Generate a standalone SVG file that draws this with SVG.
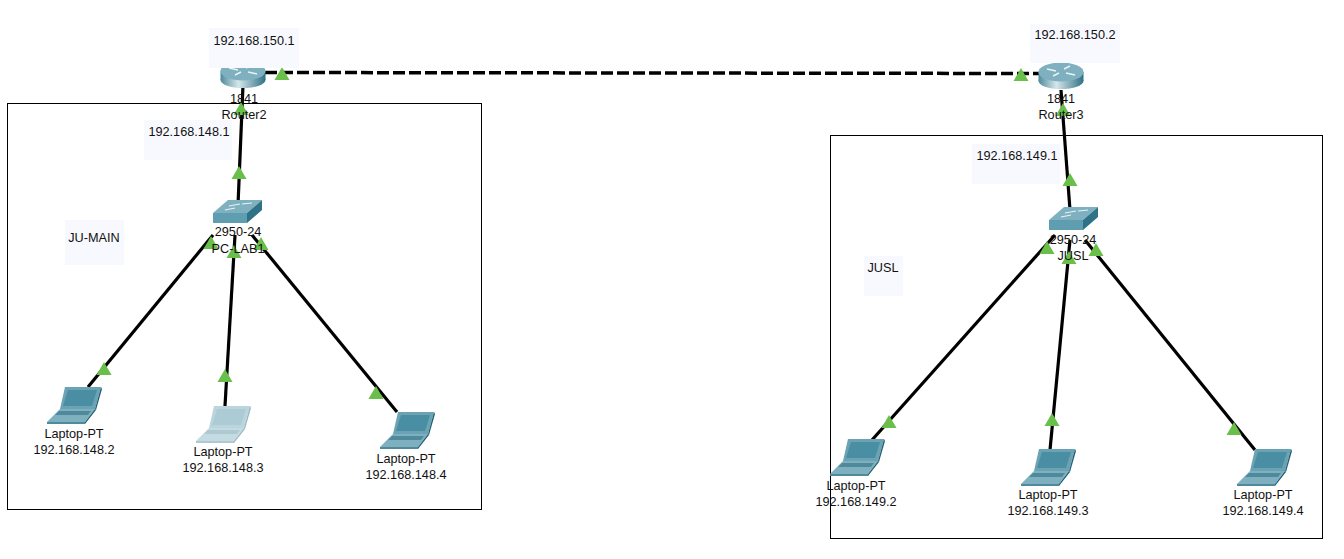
<svg xmlns="http://www.w3.org/2000/svg" xmlns:xlink="http://www.w3.org/1999/xlink" width="1344" height="559" viewBox="0 0 1344 559">
<style>
text{font-family:"Liberation Sans",Arial,sans-serif;font-size:12.7px;fill:#111;text-anchor:middle}
.box{fill:none;stroke:#000;stroke-width:1}
.note{fill:#f8f9ff}
.link{stroke:#000;stroke-width:3.200;fill:none}
.dash{stroke-dasharray:12 4;stroke-width:3.500}
.tri{fill:#6abf4b}
</style>
<defs>
<linearGradient id="rg" x1="0" x2="1" y1="0" y2="0"><stop offset="0" stop-color="#4f8a9c"/><stop offset=".4" stop-color="#d5e6ea"/><stop offset="1" stop-color="#2f7186"/></linearGradient>
<polygon id="t" class="tri" points="0,-7 7.500,6 -7.500,6"/>
<g id="router"><ellipse cx="0" cy="3" rx="22.500" ry="8" fill="url(#rg)"/><rect x="-22.500" y="-6" width="45" height="9" fill="url(#rg)"/><ellipse cx="0" cy="-6" rx="22.500" ry="9.500" fill="#7fb0bf"/><path d="M-14,-9 L-5,-7 M5,-5 L14,-3 M-8,-2 L-2,-5 M3,-9 L9,-12" stroke="#e8f2f4" stroke-width="1.500" fill="none"/></g>
<g id="switch"><polygon points="-24,1 -9,-12 25,-12 10,1" fill="#7fb0bf"/><rect x="-24" y="1" width="34" height="10" fill="#5f9db0"/><polygon points="10,1 25,-12 25,-2 10,11" fill="#2f7186"/><path d="M-8,-6 L3,-8 M5,-8 L15,-9 M-12,-2 L-2,-4" stroke="#e8f2f4" stroke-width="1.200"/></g>
<g id="laptop"><polygon points="-15,-22 21,-22 15,0 -20,0" fill="#6ba3b5"/><polygon points="-12,-19 17,-19 12,-3 -17,-3" fill="#4a8ea3"/><polygon points="21,-22 22,-20 16,1 15,0" fill="#1f6176"/><polygon points="-20,0 15,0 5,13 -33,13" fill="#7fb0bf"/><polygon points="-21,2 11,2 8,6 -25,6" fill="#4f8a9c"/><polygon points="-33,13 5,13 5,15 -33,15" fill="#4f8a9c"/><polygon points="5,13 15,0 16,1 5,15" fill="#1f6176"/></g>
</defs>
<rect width="1344" height="559" fill="#fff"/>
<g id="areas">
<rect class="box" x="7.500" y="103.500" width="474" height="406"/>
<rect class="box" x="830.500" y="135.500" width="492" height="403"/>
</g>
<g id="connectors">
<line class="link dash" x1="265" y1="72.500" x2="1039" y2="73.500"/>
<line class="link" x1="243" y1="85" x2="238" y2="205"/>
<line class="link" x1="213" y1="235" x2="88" y2="387"/>
<line class="link" x1="235" y1="235" x2="225" y2="406"/>
<line class="link" x1="252" y1="235" x2="397" y2="412"/>
<line class="link" x1="1061" y1="90" x2="1070" y2="210"/>
<line class="link" x1="1055" y1="235" x2="872" y2="440"/>
<line class="link" x1="1070" y1="240" x2="1050" y2="450"/>
<line class="link" x1="1085" y1="240" x2="1255" y2="450"/>
</g>
<g id="link-lights">
<use xlink:href="#t" x="282" y="74"/><use xlink:href="#t" x="1021" y="75"/>
<use xlink:href="#t" x="241" y="109"/><use xlink:href="#t" x="239" y="173"/>
<use xlink:href="#t" x="211" y="243"/><use xlink:href="#t" x="234" y="252"/><use xlink:href="#t" x="261" y="244"/>
<use xlink:href="#t" x="104" y="369"/><use xlink:href="#t" x="225" y="376"/><use xlink:href="#t" x="376" y="393"/>
<use xlink:href="#t" x="1063" y="110"/><use xlink:href="#t" x="1070" y="180"/>
<use xlink:href="#t" x="1047" y="248"/><use xlink:href="#t" x="1069" y="258"/><use xlink:href="#t" x="1096" y="250"/>
<use xlink:href="#t" x="889" y="422"/><use xlink:href="#t" x="1052" y="420"/><use xlink:href="#t" x="1234" y="429"/>
</g>
<g id="router2"><use xlink:href="#router" x="243" y="77"/><text x="244" y="103">1841</text><text x="244" y="119">Router2</text></g>
<g id="router3"><use xlink:href="#router" x="1061" y="78"/><text x="1061" y="103">1841</text><text x="1061" y="119">Router3</text></g>
<g id="switch-pc-lab1"><use xlink:href="#switch" x="237" y="212"/><text x="238" y="236">2950-24</text><text x="238" y="253">PC-LAB1</text></g>
<g id="switch-jusl"><use xlink:href="#switch" x="1073" y="219"/><text x="1073" y="244">2950-24</text><text x="1073" y="260">JUSL</text></g>
<g id="note-150-1"><rect class="note" x="209" y="28" width="90" height="40"/><text x="254" y="45">192.168.150.1</text></g>
<g id="note-150-2"><rect class="note" x="1030" y="24" width="90" height="39"/><text x="1075" y="39">192.168.150.2</text></g>
<g id="note-148-1"><rect class="note" x="144" y="120" width="88" height="40"/><text x="189" y="136">192.168.148.1</text></g>
<g id="note-149-1"><rect class="note" x="972" y="144" width="88" height="40"/><text x="1017" y="160">192.168.149.1</text></g>
<g id="label-ju-main"><rect class="note" x="65" y="220" width="59" height="45"/><text x="94" y="242">JU-MAIN</text></g>
<g id="label-jusl"><rect class="note" x="864" y="256" width="39" height="40"/><text x="883" y="272">JUSL</text></g>
<g id="laptop-148-2"><use xlink:href="#laptop" x="80" y="409"/><text x="74" y="438">Laptop-PT</text><text x="74" y="454">192.168.148.2</text></g>
<g id="laptop-148-3-icon" opacity=".45"><use xlink:href="#laptop" x="229" y="428"/></g>
<g id="laptop-148-3-label"><text x="223" y="456">Laptop-PT</text><text x="223" y="472">192.168.148.3</text></g>
<g id="laptop-148-4"><use xlink:href="#laptop" x="413" y="434"/><text x="406" y="463">Laptop-PT</text><text x="406" y="479">192.168.148.4</text></g>
<g id="laptop-149-2"><use xlink:href="#laptop" x="863" y="461"/><text x="856" y="490">Laptop-PT</text><text x="856" y="506">192.168.149.2</text></g>
<g id="laptop-149-3"><use xlink:href="#laptop" x="1054" y="471"/><text x="1048" y="499">Laptop-PT</text><text x="1048" y="515">192.168.149.3</text></g>
<g id="laptop-149-4"><use xlink:href="#laptop" x="1270" y="471"/><text x="1263" y="499">Laptop-PT</text><text x="1263" y="515">192.168.149.4</text></g>
</svg>
